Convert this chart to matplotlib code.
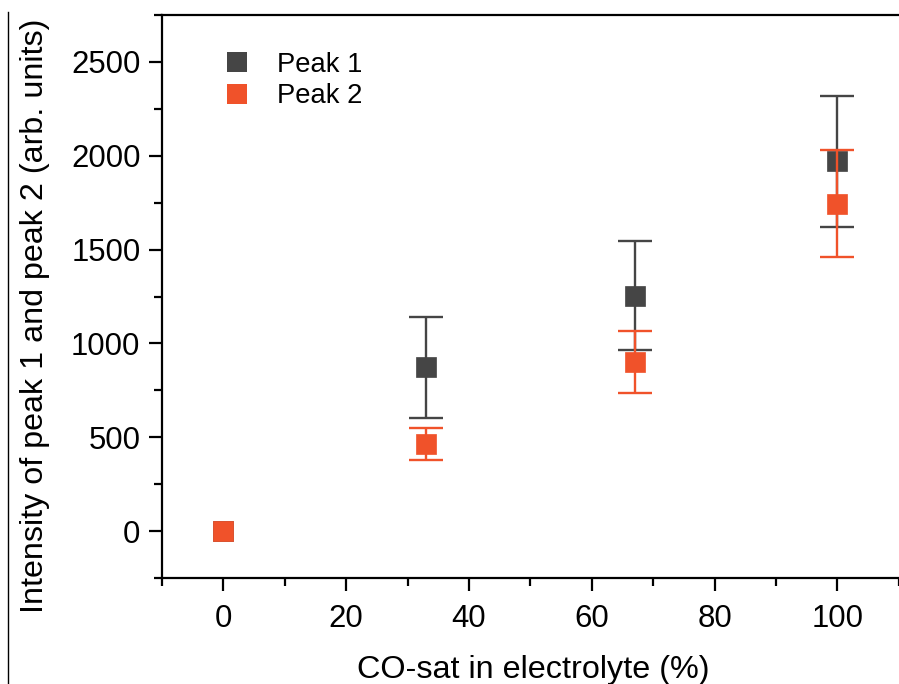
import matplotlib
matplotlib.use("Agg")
import matplotlib.pyplot as plt
from matplotlib.lines import Line2D
from matplotlib.ticker import MultipleLocator

plt.rcParams['font.family'] = ['Liberation Sans', 'DejaVu Sans']

co_sat = [0, 33, 67, 100]
peak1 = [0, 872, 1255, 1970]
peak1_err = [0, 268, 292, 350]
peak2 = [0, 463, 899, 1745]
peak2_err = [0, 85, 165, 285]

c1 = '#454545'
c2 = '#F0522A'

fig = plt.figure(figsize=(8.99, 6.84), dpi=100)
ax = fig.add_axes([162/899, 1-578/684, (905-162)/899, (578-15)/684])

for y, e, c in [(peak1, peak1_err, c1), (peak2, peak2_err, c2)]:
    xs = [xi for xi, ei in zip(co_sat, e) if ei > 0]
    ys = [yi for yi, ei in zip(y, e) if ei > 0]
    es = [ei for ei in e if ei > 0]
    ax.errorbar(xs, ys, yerr=es, fmt='none', ecolor=c, elinewidth=1.7,
                capsize=12, capthick=1.7)
    ax.plot(co_sat, y, ls='none', marker='s', ms=14, mfc=c, mec=c, mew=0.5)

ax.set_xlim(-10, 111)
ax.set_ylim(-250, 2750)
ax.xaxis.set_major_locator(MultipleLocator(20))
ax.xaxis.set_minor_locator(MultipleLocator(10))
ax.yaxis.set_major_locator(MultipleLocator(500))
ax.yaxis.set_minor_locator(MultipleLocator(250))

ax.spines['right'].set_visible(False)
for s in ax.spines.values():
    s.set_linewidth(1.6)

ax.tick_params(which='major', direction='out', length=9.5, width=1.6, labelsize=22.4)
ax.tick_params(axis='x', which='major', pad=9)
ax.tick_params(axis='y', which='major', pad=6)
ax.tick_params(which='minor', direction='out', length=5.5, width=1.6)

ax.set_xlabel('CO-sat in electrolyte (%)', fontsize=23.3, labelpad=15)
ax.set_ylabel('Intensity of peak 1 and peak 2 (arb. units)', fontsize=23.2)
ax.yaxis.set_label_coords(-0.151, 0.465)

handles = [Line2D([], [], marker='s', ls='none', color=c1, ms=14, mew=0),
           Line2D([], [], marker='s', ls='none', color=c2, ms=14, mew=0)]
ax.legend(handles, ['Peak 1', 'Peak 2'], loc='upper left', frameon=False,
          fontsize=19.7, bbox_to_anchor=(0.05, 0.978), handletextpad=0.95,
          labelspacing=0.2, handlelength=1.0)

fig.add_artist(Line2D([8/899, 8/899], [0, 1-12/684], color='black', lw=1.0))

fig.savefig('out.png', dpi=100)
